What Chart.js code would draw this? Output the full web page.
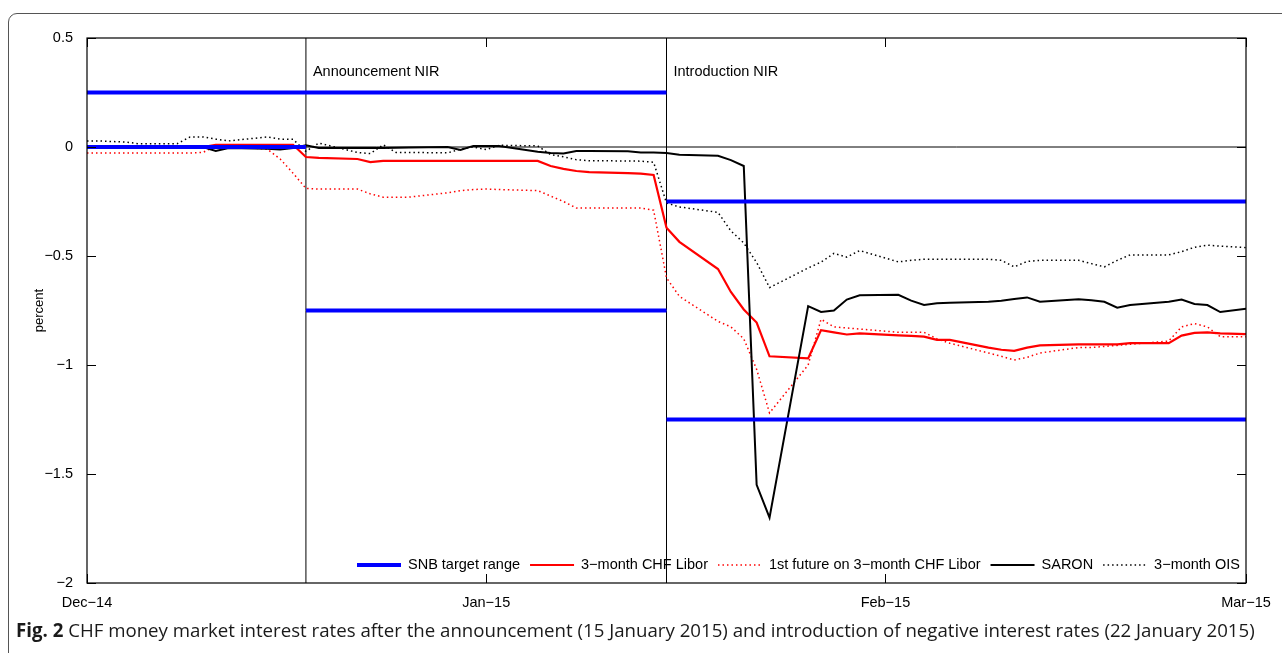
<!DOCTYPE html>
<html>
<head>
<meta charset="utf-8">
<script src="https://cdn.jsdelivr.net/npm/chart.js@4.4.1/dist/chart.umd.min.js"></script>
<style>
    html, body { margin: 0; padding: 0; background: #fff; overflow: hidden; }
    #wrap { position: relative; width: 1282px; height: 653px; }
    #frame { position: absolute; left: 8px; top: 13px; width: 1300px; height: 700px;
             border: 1.5px solid #555; border-radius: 9px; box-sizing: border-box; }
    #rates { position: absolute; left: 0; top: 0; }
    #caption { position: absolute; left: 16px; top: 617px; font-family: 'Open Sans', sans-serif;
               font-size: 15px; color: #1a1a1a; white-space: nowrap; }
</style>
</head>
<body>
<div id="wrap">
    <div id="frame"></div>
    <canvas id="rates" width="1282" height="653"></canvas>
    <div id="caption"><b>Fig. 2</b> CHF money market interest rates after the announcement (15 January 2015) and introduction of negative interest rates (22 January 2015)</div>
</div>
<script>
// business days, counted in days since 1 Dec 2014
const dayOffsets = [0, 1, 2, 3, 4, 7, 8, 9, 10, 11, 14, 15, 16, 17, 18, 21, 22, 23, 24, 25,
    28, 29, 30, 31, 32, 35, 36, 37, 38, 39, 42, 43, 44, 45, 46, 49, 50, 51, 52, 53,
    56, 57, 58, 59, 60, 63, 64, 65, 66, 67, 70, 71, 72, 73, 74, 77, 78, 79, 80, 81,
    84, 85, 86, 87, 88, 91];

const libor = [0, 0, 0, 0, 0, 0, 0, 0, 0.01, 0.01, 0.01, 0.01, 0.01, -0.046, -0.05,
    -0.055, -0.069, -0.064, -0.064, -0.064, -0.064, -0.064, -0.064, -0.064, -0.064,
    -0.064, -0.087, -0.1, -0.11, -0.115, -0.12, -0.122, -0.128, -0.37, -0.435,
    -0.56, -0.665, -0.745, -0.805, -0.96, -0.97, -0.84, -0.85, -0.86, -0.855,
    -0.864, -0.866, -0.87, -0.885, -0.885, -0.92, -0.93, -0.935, -0.92, -0.91,
    -0.905, -0.905, -0.905, -0.905, -0.9, -0.9, -0.865, -0.853, -0.85, -0.855, -0.86];

const liborFuture = [-0.028, -0.028, -0.028, -0.028, -0.028, -0.028, -0.028, -0.025, 0.005, 0.005,
    -0.01, -0.055, -0.12, -0.19, -0.193, -0.193, -0.215, -0.23, -0.23, -0.23,
    -0.21, -0.2, -0.195, -0.193, -0.195, -0.2, -0.225, -0.25, -0.28, -0.28,
    -0.28, -0.28, -0.29, -0.6, -0.685, -0.8, -0.825, -0.88, -1.02, -1.22,
    -1.0, -0.79, -0.825, -0.83, -0.835, -0.85, -0.85, -0.85, -0.88, -0.9,
    -0.945, -0.96, -0.977, -0.965, -0.945, -0.92, -0.92, -0.915, -0.91, -0.905,
    -0.89, -0.825, -0.81, -0.825, -0.87, -0.87];

const saron = [0, 0, 0, 0, 0, 0, 0, 0, -0.018, -0.005, -0.008, -0.012, -0.005, 0.008, -0.005,
    -0.005, -0.005, -0.005, -0.003, -0.002, 0, -0.014, 0.005, 0.005, 0.005,
    -0.022, -0.028, -0.03, -0.018, -0.018, -0.02, -0.025, -0.025, -0.028, -0.035,
    -0.04, -0.06, -0.087, -1.55, -1.7, -0.73, -0.757, -0.75, -0.7, -0.68,
    -0.678, -0.705, -0.725, -0.717, -0.715, -0.71, -0.705, -0.697, -0.69, -0.71,
    -0.698, -0.703, -0.71, -0.737, -0.725, -0.71, -0.7, -0.72, -0.725, -0.757, -0.735];

const ois = [0.028, 0.028, 0.025, 0.023, 0.015, 0.015, 0.046, 0.046, 0.036, 0.028,
    0.046, 0.036, 0.035, -0.02, 0.018, -0.025, -0.03, 0.01, -0.025, -0.025,
    -0.027, -0.01, 0, -0.012, 0.008, 0.005, -0.035, -0.045, -0.058, -0.063,
    -0.064, -0.065, -0.07, -0.257, -0.275, -0.3, -0.385, -0.44, -0.53, -0.645,
    -0.555, -0.528, -0.488, -0.505, -0.475, -0.527, -0.52, -0.515, -0.515, -0.515,
    -0.515, -0.52, -0.55, -0.525, -0.52, -0.52, -0.535, -0.55, -0.52, -0.495,
    -0.495, -0.48, -0.46, -0.45, -0.455, -0.465];

// SNB target range: levels hold between these days
const snbChangeDays = [0, 17, 45, 90];
const snbUpper = [0.25, 0.25, -0.25];
const snbLower = [0, -0.75, -1.25];

const eventDays = [17, 45];
const eventLabels = ['Announcement NIR', 'Introduction NIR'];

const xTickDays = [0, 31, 62, 90];
const xTickLabels = ['Dec\u221214', 'Jan\u221215', 'Feb\u221215', 'Mar\u221215'];
const yTickValues = [-2, -1.5, -1, -0.5, 0, 0.5];

const legendItems = ['SNB target range', '3\u2212month CHF Libor', '1st future on 3\u2212month CHF Libor', 'SARON', '3\u2212month OIS'];

const FONT = "'Liberation Sans', Arial, sans-serif";
Chart.defaults.font.family = FONT;

function toPoints(vals) {
    return dayOffsets.map((d, i) => ({ x: d, y: vals[i] }));
}

function stepSegments(levels) {
    const pts = [];
    levels.forEach((lvl, i) => {
        if (i > 0) pts.push({ x: snbChangeDays[i], y: null });
        pts.push({ x: snbChangeDays[i], y: lvl }, { x: snbChangeDays[i + 1], y: lvl });
    });
    return pts;
}

function fmtNum(v) {
    return v < 0 ? '\u2212' + Math.abs(v) : String(v);
}

const BLUE = 'rgb(0,0,255)';
const RED = 'rgb(255,0,0)';

const seriesStyles = [
    { color: BLUE, width: 4, dash: [] },
    { color: RED, width: 2.2, dash: [] },
    { color: RED, width: 1.5, dash: [1.5, 3] },
    { color: '#000', width: 2, dash: [] },
    { color: '#000', width: 1.5, dash: [1.5, 3] }
];

function lineSet(data, style, order) {
    return {
        data: data,
        borderColor: style.color,
        borderWidth: style.width,
        borderDash: style.dash,
        pointRadius: 0,
        tension: 0,
        fill: false,
        spanGaps: false,
        clip: 0,
        order: order
    };
}

const datasets = [
    lineSet(stepSegments(snbUpper), seriesStyles[0], 0),
    lineSet(stepSegments(snbLower), seriesStyles[0], 0),
    lineSet(toPoints(saron), seriesStyles[3], 1),
    lineSet(toPoints(ois), seriesStyles[4], 2),
    lineSet(toPoints(libor), seriesStyles[1], 3),
    lineSet(toPoints(liborFuture), seriesStyles[2], 4),
    lineSet([{ x: 0, y: 0 }, { x: 90, y: 0 }], { color: '#000', width: 1, dash: [] }, 5)
];
eventDays.forEach(d => {
    datasets.push(lineSet([{ x: d, y: -2 }, { x: d, y: 0.5 }], { color: '#000', width: 1, dash: [] }, 5));
});

const framePlugin = {
    id: 'frame',
    afterDatasetsDraw(chart) {
        const c = chart.ctx;
        const a = chart.chartArea;
        const xs = chart.scales.x;
        const ys = chart.scales.y;
        c.save();
        c.strokeStyle = '#000';
        c.lineWidth = 1.2;
        c.strokeRect(a.left, a.top, a.right - a.left, a.bottom - a.top);
        c.lineWidth = 1;
        c.beginPath();
        yTickValues.forEach(v => {
            const y = Math.round(ys.getPixelForValue(v)) + 0.5;
            c.moveTo(a.left, y); c.lineTo(a.left + 9, y);
            c.moveTo(a.right, y); c.lineTo(a.right - 9, y);
        });
        xTickDays.forEach(v => {
            const x = Math.round(xs.getPixelForValue(v)) + 0.5;
            c.moveTo(x, a.bottom); c.lineTo(x, a.bottom - 9);
            c.moveTo(x, a.top); c.lineTo(x, a.top + 9);
        });
        c.stroke();

        c.fillStyle = '#000';
        c.font = '14.5px ' + FONT;
        c.textBaseline = 'middle';
        c.textAlign = 'left';
        eventDays.forEach((d, i) => {
            c.fillText(eventLabels[i], xs.getPixelForValue(d) + 7, ys.getPixelForValue(0.345));
        });
        c.restore();
    }
};

const legendPlugin = {
    id: 'insideLegend',
    afterDraw(chart) {
        const c = chart.ctx;
        c.save();
        c.font = '14.5px ' + FONT;
        c.textBaseline = 'middle';
        c.textAlign = 'left';
        let x = 357;
        const y = 565;
        legendItems.forEach((label, i) => {
            const st = seriesStyles[i];
            c.beginPath();
            c.strokeStyle = st.color;
            c.lineWidth = st.width;
            c.setLineDash(st.dash);
            c.moveTo(x, y);
            c.lineTo(x + 44, y);
            c.stroke();
            c.setLineDash([]);
            c.fillStyle = '#000';
            c.fillText(label, x + 51, y);
            x += 51 + c.measureText(label).width + 10;
        });
        c.restore();
    }
};

new Chart(document.getElementById('rates').getContext('2d'), {
    type: 'line',
    data: { datasets: datasets },
    options: {
        responsive: false,
        animation: false,
        devicePixelRatio: 1,
        layout: { padding: { left: 10, top: 38, right: 36, bottom: 43 } },
        plugins: { legend: { display: false }, tooltip: { enabled: false } },
        scales: {
            x: {
                type: 'linear',
                min: 0,
                max: 90,
                grid: { display: false },
                border: { display: false },
                afterBuildTicks: s => { s.ticks = xTickDays.map(v => ({ value: v })); },
                afterFit: s => { s.height = 27; },
                ticks: {
                    autoSkip: false,
                    maxRotation: 0,
                    padding: 3,
                    color: '#000',
                    font: { size: 14.5 },
                    callback: v => xTickLabels[xTickDays.indexOf(v)]
                }
            },
            y: {
                type: 'linear',
                min: -2,
                max: 0.5,
                grid: { display: false },
                border: { display: false },
                afterBuildTicks: s => { s.ticks = yTickValues.map(v => ({ value: v })); },
                afterFit: s => { s.width = 77; },
                ticks: {
                    padding: 6,
                    color: '#000',
                    font: { size: 14.5 },
                    callback: v => fmtNum(v)
                },
                title: {
                    display: true,
                    text: 'percent',
                    color: '#000',
                    font: { size: 13 },
                    padding: { top: 22, bottom: 0 }
                }
            }
        }
    },
    plugins: [framePlugin, legendPlugin]
});

// stretch the caption to the width it has in the figure
const cap = document.getElementById('caption');
const capWidth = cap.getBoundingClientRect().width;
cap.style.fontSize = (15 * 1239 / capWidth).toFixed(2) + 'px';
</script>
</body>
</html>
